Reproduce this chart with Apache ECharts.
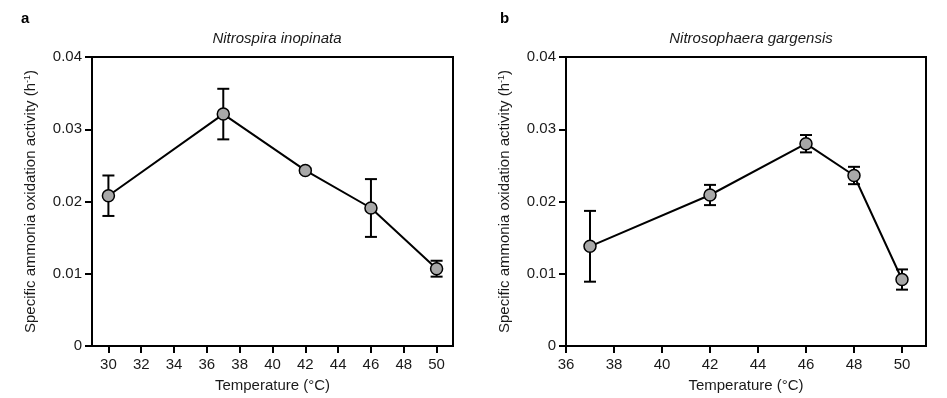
<!DOCTYPE html>
<html>
<head>
<meta charset="utf-8">
<script src="https://cdn.jsdelivr.net/npm/echarts@6/dist/echarts.min.js"></script>
<style>
  html, body { margin: 0; padding: 0; background: #fff; }
  #chart { width: 947px; height: 398px; }
</style>
</head>
<body>
<div id="chart"></div>
<script>
// panel a: Nitrospira inopinata
var tempA = [30, 37, 42, 46, 50];
var meanA = [0.0208, 0.0321, 0.0243, 0.0191, 0.0107];
var errA  = [0.0028, 0.0035, 0.0003, 0.0040, 0.0011];
var ticksA = [30, 32, 34, 36, 38, 40, 42, 44, 46, 48, 50];

// panel b: Nitrosophaera gargensis
var tempB = [37, 42, 46, 48, 50];
var meanB = [0.0138, 0.0209, 0.0280, 0.0236, 0.0092];
var errB  = [0.0049, 0.0014, 0.0012, 0.0012, 0.0014];
var ticksB = [36, 38, 40, 42, 44, 46, 48, 50];

var yTicks = [0, 0.01, 0.02, 0.03, 0.04];

var font = 'Liberation Sans, Arial, Helvetica, sans-serif';
var chart = echarts.init(document.getElementById('chart'));

function pairs(xs, ys) {
  return xs.map(function (x, i) { return [x, ys[i]]; });
}
function bars(xs, ys, es) {
  return xs.map(function (x, i) { return [x, ys[i] - es[i], ys[i] + es[i]]; });
}

// error bar with caps
function renderErr(params, api) {
  var x = api.value(0);
  var lo = api.coord([x, api.value(1)]);
  var hi = api.coord([x, api.value(2)]);
  var w = 6;
  var st = { stroke: '#000', lineWidth: 2 };
  return {
    type: 'group',
    children: [
      { type: 'line', shape: { x1: hi[0], y1: hi[1], x2: lo[0], y2: lo[1] }, style: st },
      { type: 'line', shape: { x1: hi[0] - w, y1: hi[1], x2: hi[0] + w, y2: hi[1] }, style: st },
      { type: 'line', shape: { x1: lo[0] - w, y1: lo[1], x2: lo[0] + w, y2: lo[1] }, style: st }
    ]
  };
}

function xAxis(idx, min, max, ticks) {
  return {
    type: 'value', gridIndex: idx, min: min, max: max,
    name: 'Temperature (°C)', nameLocation: 'middle', nameGap: 32,
    nameTextStyle: { fontFamily: font, fontSize: 15, color: '#1a1a1a' },
    axisLine: { lineStyle: { color: '#000', width: 2 } },
    axisTick: { length: 7, lineStyle: { color: '#000', width: 2 }, customValues: ticks },
    axisLabel: { fontFamily: font, fontSize: 15, color: '#1a1a1a', margin: 11, customValues: ticks },
    splitLine: { show: false }
  };
}
function yAxis(idx) {
  return {
    type: 'value', gridIndex: idx, min: 0, max: 0.04, interval: 0.01,
    name: 'Specific ammonia oxidation activity (h{sup|-1})',
    nameLocation: 'middle', nameGap: 54,
    nameTextStyle: {
      fontFamily: font, fontSize: 15, color: '#1a1a1a',
      rich: { sup: { fontFamily: font, fontSize: 9, color: '#1a1a1a', verticalAlign: 'top', padding: [0, 0, 6, 0] } }
    },
    axisLine: { lineStyle: { color: '#000', width: 2 } },
    axisTick: { length: 7, lineStyle: { color: '#000', width: 2 }, customValues: yTicks },
    axisLabel: { fontFamily: font, fontSize: 15, color: '#1a1a1a', margin: 10, customValues: yTicks },
    splitLine: { show: false }
  };
}

function lineSeries(idx, data) {
  return {
    type: 'line', xAxisIndex: idx, yAxisIndex: idx, data: data, z: 3,
    symbol: 'circle', symbolSize: 12,
    lineStyle: { color: '#000', width: 2 },
    itemStyle: { color: '#a8a8a8', borderColor: '#000', borderWidth: 1.5 },
    animation: false
  };
}
function errSeries(idx, data) {
  return {
    type: 'custom', xAxisIndex: idx, yAxisIndex: idx, data: data, z: 2,
    renderItem: renderErr, animation: false
  };
}

chart.setOption({
  backgroundColor: '#fff',
  animation: false,
  title: [
    { text: 'a', left: 16, top: 6, textStyle: { fontFamily: font, fontSize: 15, fontWeight: 'bold', color: '#000' } },
    { text: 'b', left: 495, top: 6, textStyle: { fontFamily: font, fontSize: 15, fontWeight: 'bold', color: '#000' } },
    { text: 'Nitrospira inopinata', left: 272, top: 26, textAlign: 'center',
      textStyle: { fontFamily: font, fontSize: 15, fontStyle: 'italic', fontWeight: 'normal', color: '#1a1a1a' } },
    { text: 'Nitrosophaera gargensis', left: 746, top: 26, textAlign: 'center',
      textStyle: { fontFamily: font, fontSize: 15, fontStyle: 'italic', fontWeight: 'normal', color: '#1a1a1a' } }
  ],
  grid: [
    { left: 92, right: 494, top: 57, bottom: 51, show: true, borderColor: '#000', borderWidth: 2 },
    { left: 566, right: 21, top: 57, bottom: 51, show: true, borderColor: '#000', borderWidth: 2 }
  ],
  xAxis: [xAxis(0, 29, 51, ticksA), xAxis(1, 36, 51, ticksB)],
  yAxis: [yAxis(0), yAxis(1)],
  series: [
    errSeries(0, bars(tempA, meanA, errA)),
    lineSeries(0, pairs(tempA, meanA)),
    errSeries(1, bars(tempB, meanB, errB)),
    lineSeries(1, pairs(tempB, meanB))
  ]
});
</script>
</body>
</html>
